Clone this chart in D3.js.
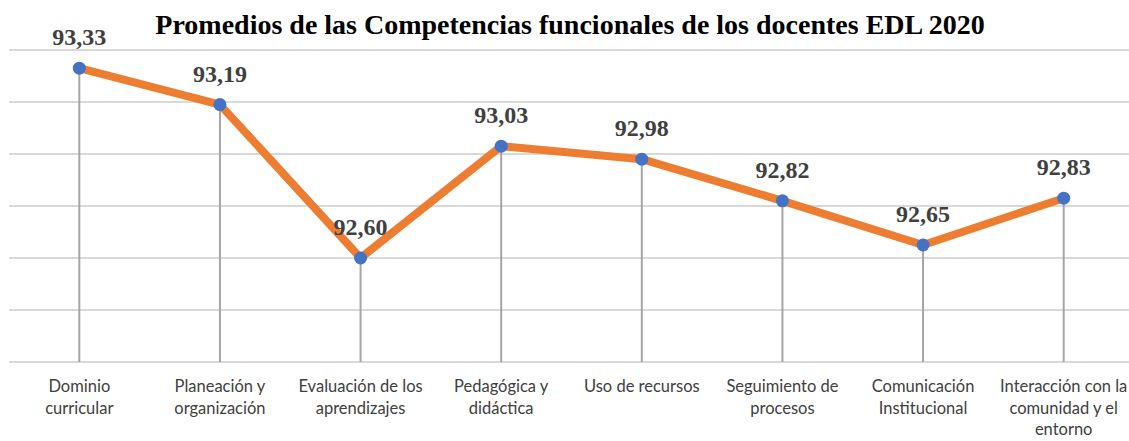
<!DOCTYPE html>
<html>
<head>
<meta charset="utf-8">
<script src="https://cdn.jsdelivr.net/npm/d3@7"></script>
<style>
  html, body { margin: 0; padding: 0; background: #fff; }
  svg { display: block; }
</style>
</head>
<body>
<svg id="chart" width="1129" height="441"></svg>
<script>
// Competency names (multi-line labels split on "\n")
const categories = [
  "Dominio\ncurricular",
  "Planeación y\norganización",
  "Evaluación de los\naprendizajes",
  "Pedagógica y\ndidáctica",
  "Uso de recursos",
  "Seguimiento de\nprocesos",
  "Comunicación\nInstitucional",
  "Interacción con la\ncomunidad y el\nentorno"
];
const promedios = [93.33, 93.19, 92.60, 93.03, 92.98, 92.82, 92.65, 92.83];
const gridTicks = [92.2, 92.4, 92.6, 92.8, 93.0, 93.2, 93.4];

const svg = d3.select("#chart");
const W = 1129, H = 441;
const plotLeft = 9, plotRight = 1134, plotTop = 50, plotBottom = 362;

const x = d3.scalePoint()
  .domain(d3.range(categories.length))
  .range([plotLeft, plotRight])
  .padding(0.5);

const y = d3.scaleLinear()
  .domain([92.2, 93.4])
  .range([plotBottom, plotTop]);

// Horizontal gridlines
svg.append("g")
  .selectAll("line")
  .data(gridTicks)
  .join("line")
  .attr("x1", plotLeft)
  .attr("x2", W)
  .attr("y1", d => y(d))
  .attr("y2", d => y(d))
  .attr("stroke", "#d9d9d9")
  .attr("stroke-width", 2);

// Drop lines from each point down to the axis
svg.append("g")
  .selectAll("line")
  .data(promedios)
  .join("line")
  .attr("x1", (d, i) => x(i))
  .attr("x2", (d, i) => x(i))
  .attr("y1", d => y(d))
  .attr("y2", y(92.2))
  .attr("stroke", "#a5a5a5")
  .attr("stroke-width", 2);

// Series line
const line = d3.line()
  .x((d, i) => x(i))
  .y(d => y(d));

svg.append("path")
  .datum(promedios)
  .attr("d", line)
  .attr("fill", "none")
  .attr("stroke", "#ed7d31")
  .attr("stroke-width", 8)
  .attr("stroke-linejoin", "round")
  .attr("stroke-linecap", "round");

// Markers
svg.append("g")
  .selectAll("circle")
  .data(promedios)
  .join("circle")
  .attr("cx", (d, i) => x(i))
  .attr("cy", d => y(d))
  .attr("r", 6.5)
  .attr("fill", "#4472c4");

// Value labels (decimal comma)
const fmt = v => d3.format(".2f")(v).replace(".", ",");
svg.append("g")
  .selectAll("text")
  .data(promedios)
  .join("text")
  .attr("x", (d, i) => x(i))
  .attr("y", d => y(d) - 23)
  .attr("text-anchor", "middle")
  .attr("font-family", "'Liberation Serif', 'Times New Roman', serif")
  .attr("font-weight", "bold")
  .attr("font-size", 24)
  .attr("fill", "#404040")
  .text(d => fmt(d));

// Category labels
const catG = svg.append("g");
categories.forEach((c, i) => {
  const t = catG.append("text")
    .attr("x", x(i))
    .attr("y", 392)
    .attr("text-anchor", "middle")
    .attr("font-family", "Lato, 'Open Sans', sans-serif")
    .attr("font-size", 16.5)
    .attr("fill", "#404040");
  c.split("\n").forEach((ln, k) => {
    t.append("tspan")
      .attr("x", x(i))
      .attr("dy", k === 0 ? 0 : 21.5)
      .text(ln);
  });
});

// Title
svg.append("text")
  .attr("x", 570)
  .attr("y", 34)
  .attr("text-anchor", "middle")
  .attr("font-family", "'Liberation Serif', 'Times New Roman', serif")
  .attr("font-weight", "bold")
  .attr("font-size", 28)
  .attr("fill", "#000")
  .text("Promedios de las Competencias funcionales de los docentes EDL 2020");
</script>
</body>
</html>
